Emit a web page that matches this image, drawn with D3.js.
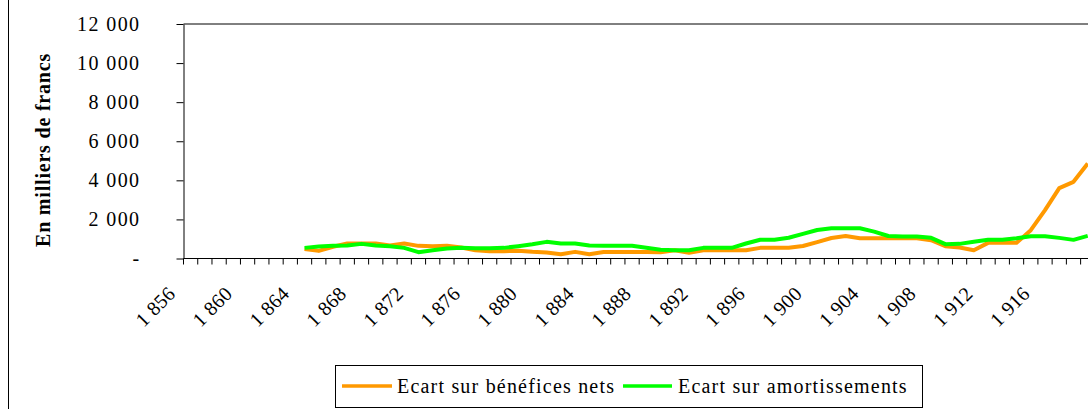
<!DOCTYPE html>
<html>
<head>
<meta charset="utf-8">
<script src="https://cdn.jsdelivr.net/npm/d3@7/dist/d3.min.js"></script>
<style>
  html, body { margin: 0; padding: 0; background: #fff; }
  svg { display: block; }
  text { font-family: "Liberation Serif", "Times New Roman", serif; fill: #000; }
</style>
</head>
<body>
<svg id="chart" width="1088" height="409"></svg>
<script>
// ---- DATA ----
const categories = [1856,1857,1858,1859,1860,1861,1862,1863,1864,1865,1866,1867,1868,1869,1870,1871,
  1872,1873,1874,1875,1876,1877,1878,1879,1880,1881,1882,1883,1884,1885,1886,1887,1888,1889,1890,1891,
  1892,1893,1894,1895,1896,1897,1898,1899,1900,1901,1902,1903,1904,1905,1906,1907,1908,1909,1910,1911,
  1912,1913,1914,1915,1916,1917,1918,1919];
const seriesYears = [1864,1865,1866,1867,1868,1869,1870,1871,1872,1873,1874,1875,1876,1877,1878,1879,
  1880,1881,1882,1883,1884,1885,1886,1887,1888,1889,1890,1891,1892,1893,1894,1895,1896,1897,1898,1899,
  1900,1901,1902,1903,1904,1905,1906,1907,1908,1909,1910,1911,1912,1913,1914,1915,1916,1917,1918,1919];
const beneficesNets = [490,390,600,766,766,766,664,766,647,630,647,562,425,374,374,400,
  340,306,220,340,220,330,330,330,330,320,420,290,420,420,420,425,545,545,545,640,
  840,1050,1150,1040,1030,1040,1040,1040,937,630,562,425,800,800,800,1449,2473,3600,3923,4862];
const amortissements = [544,613,647,664,749,664,630,544,323,425,510,544,527,527,544,630,
  732,852,766,766,660,647,647,647,555,445,425,420,545,545,545,766,960,960,1060,1260,
  1460,1550,1550,1550,1375,1150,1125,1125,1056,732,749,852,960,965,1040,1142,1142,1056,954,1159];
const seriesNames = ["Ecart sur bénéfices nets", "Ecart sur amortissements"];
const seriesColors = ["#FF9900", "#00FF00"];
const yTickValues = [0,2000,4000,6000,8000,10000,12000];
const yTickLabels = ["-","2 000","4 000","6 000","8 000","10 000","12 000"];
const xLabelYears = [1856,1860,1864,1868,1872,1876,1880,1884,1888,1892,1896,1900,1904,1908,1912,1916];
const xTickLabels = ["1 856","1 860","1 864","1 868","1 872","1 876","1 880","1 884","1 888","1 892",
  "1 896","1 900","1 904","1 908","1 912","1 916"];
const yTitle = "En milliers de francs";

// ---- LAYOUT ----
const plotLeft = 183.5, plotTop = 24, plotBottom = 258.5, catWidth = 14.24;
const svg = d3.select("#chart");

const x = d3.scaleBand().domain(categories)
  .range([plotLeft, plotLeft + categories.length * catWidth]).padding(0);
const y = d3.scaleLinear().domain([0, 12000]).range([plotBottom, plotTop]);

// chart area left border
svg.append("line").attr("x1", 8.5).attr("x2", 8.5).attr("y1", 0).attr("y2", 409)
  .attr("stroke", "#000").attr("stroke-width", 1);

// plot area top border
svg.append("line").attr("x1", plotLeft).attr("x2", x.range()[1])
  .attr("y1", plotTop).attr("y2", plotTop).attr("stroke", "#000").attr("stroke-width", 1);

// Y axis
const yAxis = d3.axisLeft(y).tickValues(yTickValues)
  .tickFormat((d, i) => yTickLabels[i]).tickSize(7).tickSizeOuter(0).tickPadding(36);
const gy = svg.append("g").attr("transform", `translate(${plotLeft},0)`).call(yAxis);
gy.selectAll("path, line").attr("stroke", "#000");
gy.selectAll("text").attr("font-size", 20).attr("letter-spacing", "1.4px")
  .style("font-family", '"Liberation Serif", serif').attr("fill", "#000");

// X axis line
svg.append("line").attr("x1", plotLeft).attr("x2", x.range()[1])
  .attr("y1", plotBottom).attr("y2", plotBottom).attr("stroke", "#000");
// X ticks at category boundaries
const boundaries = categories.map(c => x(c)).concat([x.range()[1]]);
svg.append("g").selectAll("line").data(boundaries).join("line")
  .attr("x1", d => d).attr("x2", d => d)
  .attr("y1", plotBottom).attr("y2", plotBottom + 6)
  .attr("stroke", "#000");
// X labels
svg.append("g").selectAll("text").data(xLabelYears).join("text")
  .attr("transform", d => `translate(${x(d) + x.bandwidth() / 2 - 14},295) rotate(-45)`)
  .attr("text-anchor", "end")
  .attr("font-size", 20).attr("letter-spacing", "0.3px")
  .text((d, i) => xTickLabels[i]);

// Y title
svg.append("text")
  .attr("transform", `translate(50,150) rotate(-90)`)
  .attr("text-anchor", "middle")
  .attr("font-size", 20).attr("font-weight", "bold").attr("letter-spacing", "0.8px")
  .text(yTitle);

// Lines
const line = d3.line()
  .x(d => x(d.year) + x.bandwidth() / 2)
  .y(d => y(d.value));
const allSeries = [beneficesNets, amortissements];
allSeries.forEach((vals, si) => {
  const pts = seriesYears.map((yr, i) => ({ year: yr, value: vals[i] }));
  svg.append("path").datum(pts)
    .attr("fill", "none").attr("stroke", seriesColors[si])
    .attr("stroke-width", 4).attr("stroke-linejoin", "round")
    .attr("d", line);
});

// Legend
const lg = svg.append("g");
lg.append("rect").attr("x", 335.5).attr("y", 365.5).attr("width", 587).attr("height", 42)
  .attr("fill", "#fff").attr("stroke", "#000").attr("stroke-width", 1);
const legendItems = [
  { lx1: 342, lx2: 392, tx: 397 },
  { lx1: 623, lx2: 672, tx: 678 }
];
legendItems.forEach((it, i) => {
  lg.append("line").attr("x1", it.lx1).attr("x2", it.lx2).attr("y1", 386).attr("y2", 386)
    .attr("stroke", seriesColors[i]).attr("stroke-width", 3.5);
  lg.append("text").attr("x", it.tx).attr("y", 393)
    .attr("font-size", 20).attr("letter-spacing", "1.2px")
    .text(seriesNames[i]);
});
</script>
</body>
</html>
